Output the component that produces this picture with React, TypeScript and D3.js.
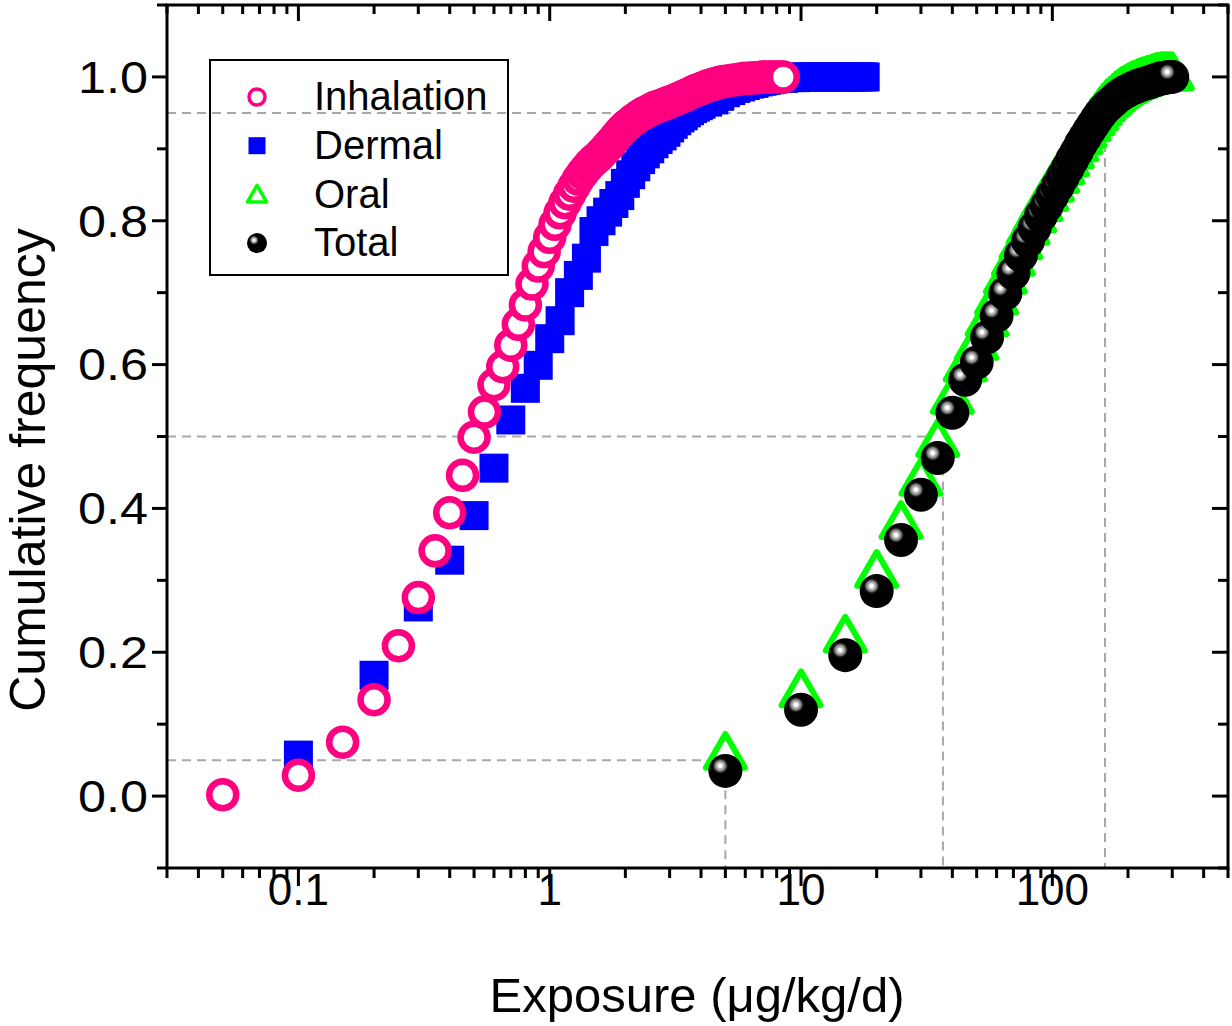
import React from 'react';
import * as d3 from 'd3';

// ---------------- data ----------------
const inhalationX = [0.05, 0.1, 0.15, 0.2, 0.25, 0.3, 0.35, 0.4, 0.45, 0.5, 0.55, 0.6, 0.65, 0.7, 0.75, 0.8, 0.85, 0.9, 0.95, 1.0,
  1.05, 1.1, 1.15, 1.2, 1.25, 1.3, 1.35, 1.4, 1.45, 1.5, 1.55, 1.6, 1.65, 1.7, 1.75, 1.8, 1.85, 1.9, 1.95, 2.0,
  2.05, 2.1, 2.15, 2.2, 2.25, 2.3, 2.35, 2.4, 2.45, 2.5, 2.55, 2.6, 2.65, 2.7, 2.75, 2.8, 2.85, 2.9, 2.95, 3.0,
  3.1, 3.2, 3.3, 3.4, 3.5, 3.6, 3.7, 3.8, 3.9, 4.0, 4.1, 4.2, 4.3, 4.4, 4.5, 4.6, 4.7, 4.8, 4.9, 5.0,
  5.25, 5.5, 5.75, 6.0, 6.25, 6.5, 6.75, 7.0, 7.25, 7.5, 7.75, 8.0, 8.25, 8.5];
const inhalationY = [0.002, 0.029, 0.075, 0.134, 0.209, 0.276, 0.341, 0.394, 0.446, 0.499, 0.534, 0.572, 0.597, 0.627, 0.656, 0.683, 0.712, 0.737, 0.757, 0.777,
  0.795, 0.811, 0.825, 0.837, 0.848, 0.858, 0.866, 0.873, 0.879, 0.884, 0.888, 0.893, 0.898, 0.903, 0.908, 0.913, 0.918, 0.923, 0.927, 0.931,
  0.934, 0.937, 0.940, 0.942, 0.945, 0.947, 0.949, 0.951, 0.952, 0.954, 0.955, 0.957, 0.958, 0.959, 0.960, 0.961, 0.962, 0.963, 0.964, 0.965,
  0.967, 0.969, 0.971, 0.973, 0.975, 0.977, 0.979, 0.981, 0.982, 0.984, 0.985, 0.987, 0.988, 0.989, 0.990, 0.991, 0.992, 0.993, 0.993, 0.994,
  0.995, 0.996, 0.997, 0.998, 0.998, 0.999, 0.999, 1.0, 1.0, 1.0, 1.0, 1.0, 1.0, 1.0];

const dermalX = [0.1, 0.2, 0.3, 0.4, 0.5, 0.6, 0.7, 0.8, 0.9, 1.0, 1.1, 1.2, 1.3, 1.4, 1.5, 1.6, 1.7, 1.8, 1.9, 2.0,
  2.1, 2.2, 2.3, 2.4, 2.5, 2.6, 2.7, 2.8, 2.9, 3.0, 3.1, 3.2, 3.3, 3.4, 3.5, 3.6, 3.7, 3.8, 3.9, 4.0,
  4.25, 4.5, 4.75, 5.0, 5.25, 5.5, 5.75, 6.0, 6.25, 6.5, 6.75, 7.0, 7.25, 7.5, 7.75, 8.0, 8.5, 9.0, 9.5, 10,
  10.5, 11, 11.5, 12, 12.5, 13, 13.5, 14, 14.5, 15, 15.5, 16, 16.5, 17, 17.5, 18];
const dermalY = [0.057, 0.168, 0.263, 0.328, 0.39, 0.456, 0.523, 0.567, 0.599, 0.636, 0.661, 0.70, 0.724, 0.748, 0.785, 0.80, 0.812, 0.824, 0.835, 0.852,
  0.864, 0.875, 0.885, 0.893, 0.900, 0.907, 0.913, 0.918, 0.923, 0.929, 0.934, 0.939, 0.943, 0.946, 0.950, 0.953, 0.956, 0.958, 0.960, 0.962,
  0.965, 0.968, 0.973, 0.978, 0.981, 0.984, 0.986, 0.988, 0.990, 0.991, 0.993, 0.994, 0.995, 0.996, 0.997, 0.998, 0.998, 0.999, 0.999, 1.0,
  1.0, 1.0, 1.0, 1.0, 1.0, 1.0, 1.0, 1.0, 1.0, 1.0, 1.0, 1.0, 1.0, 1.0, 1.0, 1.0];

const totalX = [5, 10, 15, 20, 25, 30, 35, 40, 45, 50, 55, 60, 65, 70, 75, 80, 85, 90, 95, 100,
  105, 110, 115, 120, 125, 130, 135, 140, 145, 150, 155, 160, 165, 170, 175, 180, 185, 190, 195, 200,
  205, 210, 215, 220, 225, 230, 235, 240, 245, 250, 255, 260, 265, 270, 275, 280, 285, 290, 295, 300];
const totalY = [0.035, 0.12, 0.196, 0.285, 0.356, 0.419, 0.470, 0.533, 0.579, 0.603, 0.638, 0.668, 0.699, 0.727, 0.752, 0.772, 0.790, 0.807, 0.821, 0.835,
  0.848, 0.861, 0.873, 0.885, 0.896, 0.907, 0.916, 0.925, 0.933, 0.941, 0.948, 0.954, 0.959, 0.963, 0.967, 0.971, 0.974, 0.977, 0.979, 0.981,
  0.983, 0.985, 0.986, 0.988, 0.989, 0.990, 0.991, 0.992, 0.993, 0.994, 0.995, 0.996, 0.997, 0.998, 0.998, 0.999, 0.999, 1.0, 1.0, 1.0];

const oralX = totalX;
const oralY = [0.055, 0.142, 0.218, 0.308, 0.376, 0.436, 0.49, 0.55, 0.595, 0.625, 0.658, 0.688, 0.717, 0.742, 0.765, 0.785, 0.802, 0.818, 0.832, 0.845,
  0.857, 0.869, 0.880, 0.891, 0.901, 0.911, 0.920, 0.929, 0.937, 0.944, 0.951, 0.957, 0.962, 0.966, 0.970, 0.974, 0.977, 0.980, 0.982, 0.984,
  0.986, 0.988, 0.989, 0.991, 0.992, 0.993, 0.994, 0.995, 0.996, 0.997, 0.998, 0.999, 0.999, 1.0, 1.0, 1.0, 1.0, 1.0, 1.0, 1.0];

// reference percentile lines: [y level, x value]
const refLevels = [0.05, 0.5, 0.95];
const refValues = [5, 36.7, 162];

const xTickValues = [0.1, 1, 10, 100];
const xTickLabels = ['0.1', '1', '10', '100'];
const yTickValues = [0, 0.2, 0.4, 0.6, 0.8, 1.0];
const yTickLabels = ['0.0', '0.2', '0.4', '0.6', '0.8', '1.0'];
const yMinorValues = [-0.1, 0.1, 0.3, 0.5, 0.7, 0.9, 1.1];

const legendNames = ['Inhalation', 'Dermal', 'Oral', 'Total'];

// ---------------- layout ----------------
const W = 1232, H = 1026;
const L = 167, R = 1228, T = 5, B = 868;
const PINK = '#ff0080', BLUE = '#0000ff', GREEN = '#00ff00';
const FONT = 'Liberation Sans, Arial, Helvetica, sans-serif';

const x = d3.scaleLog().domain([0.03, 500]).range([L, R]);
const y = d3.scaleLinear().domain([-0.1, 1.1]).range([B, T]);

function triPath(s: number) {
  const h = (s * Math.sqrt(3)) / 2;
  return `M0,${-2 * h / 3}L${s / 2},${h / 3}L${-s / 2},${h / 3}Z`;
}

export default function App() {
  const xMinor = x.ticks().filter((v) => !xTickValues.some((t) => Math.abs(t - v) / t < 1e-6));
  const sq = 29;
  return (
    <svg width={W} height={H} style={{ position: 'absolute', left: 0, top: 0, background: '#fff' }} fontFamily={FONT}>
      <defs>
        <radialGradient id="sphere" cx="0.35" cy="0.35" r="0.5" fx="0.35" fy="0.35">
          <stop offset="0" stopColor="#ffffff" />
          <stop offset="0.1" stopColor="#ffffff" />
          <stop offset="0.18" stopColor="#bbbbbb" />
          <stop offset="0.3" stopColor="#858585" />
          <stop offset="0.4" stopColor="#202020" />
          <stop offset="0.48" stopColor="#000000" />
          <stop offset="1" stopColor="#000000" />
        </radialGradient>
        <clipPath id="plotClip">
          <rect x={L} y={T} width={R - L} height={B - T} />
        </clipPath>
      </defs>
      <rect x={0} y={0} width={W} height={H} fill="#fff" />

      {/* reference dashed lines */}
      <g stroke="#a8a8a8" strokeWidth={2} strokeDasharray="9,6" fill="none">
        {refLevels.map((lv, i) => (
          <g key={i}>
            <line x1={L} x2={x(refValues[i])} y1={y(lv)} y2={y(lv)} />
            <line x1={x(refValues[i])} x2={x(refValues[i])} y1={y(lv)} y2={B} />
          </g>
        ))}
      </g>

      <g clipPath="url(#plotClip)">
        {/* Dermal */}
        <g fill={BLUE}>
          {dermalX.map((v, i) => (
            <rect key={i} x={x(v) - sq / 2} y={y(dermalY[i]) - sq / 2} width={sq} height={sq} />
          ))}
        </g>
        {/* Inhalation */}
        <g fill="#fff" stroke={PINK} strokeWidth={6.5}>
          {inhalationX.map((v, i) => (
            <circle key={i} cx={x(v)} cy={y(inhalationY[i])} r={13.5} />
          ))}
        </g>
        {/* Oral */}
        <g fill="#fff" stroke={GREEN} strokeWidth={6} strokeLinejoin="round">
          {oralX.map((v, i) => (
            <path key={i} d={triPath(39)} transform={`translate(${x(v)},${y(oralY[i])})`} />
          ))}
        </g>
        {/* Total */}
        <g fill="url(#sphere)">
          {totalX.map((v, i) => (
            <circle key={i} cx={x(v)} cy={y(totalY[i])} r={17} />
          ))}
        </g>
      </g>

      {/* frame */}
      <rect x={L} y={T} width={R - L} height={B - T} fill="none" stroke="#000" strokeWidth={3} />

      {/* ticks */}
      <g stroke="#000" strokeWidth={3}>
        {xTickValues.map((v, i) => (
          <g key={'xm' + i}>
            <line x1={x(v)} x2={x(v)} y1={B} y2={B + 18} />
            <line x1={x(v)} x2={x(v)} y1={T} y2={T + 16} />
          </g>
        ))}
        {xMinor.map((v, i) => (
          <g key={'xn' + i}>
            <line x1={x(v)} x2={x(v)} y1={B} y2={B + 10} />
            <line x1={x(v)} x2={x(v)} y1={T} y2={T + 9} />
          </g>
        ))}
        {yTickValues.map((v, i) => (
          <g key={'ym' + i}>
            <line x1={L - 15} x2={L} y1={y(v)} y2={y(v)} />
            <line x1={R - 16} x2={R} y1={y(v)} y2={y(v)} />
          </g>
        ))}
        {yMinorValues.map((v, i) => (
          <g key={'yn' + i}>
            <line x1={L - 10} x2={L} y1={y(v)} y2={y(v)} />
            <line x1={R - 10} x2={R} y1={y(v)} y2={y(v)} />
          </g>
        ))}
      </g>

      {/* tick labels */}
      <g fill="#000">
        {xTickValues.map((v, i) => (
          <text key={i} x={x(v)} y={905} fontSize={44} textAnchor="middle">{xTickLabels[i]}</text>
        ))}
        {yTickValues.map((v, i) => (
          <text key={i} x={78} y={y(v)} dy="0.36em" fontSize={44} textLength={70} lengthAdjust="spacingAndGlyphs">{yTickLabels[i]}</text>
        ))}
      </g>

      {/* axis titles */}
      <text x={697} y={1012} fontSize={49} textAnchor="middle">Exposure (μg/kg/d)</text>
      <text transform={`translate(45,470) rotate(-90)`} fontSize={50} textAnchor="middle">Cumulative frequency</text>

      {/* legend */}
      <g>
        <rect x={210} y={60} width={298} height={215} fill="none" stroke="#000" strokeWidth={2} />
        {legendNames.map((n, i) => {
          const cy = 97 + i * 48.7;
          const cx = 257;
          let sym;
          if (i === 0) sym = <circle cx={cx} cy={cy} r={8} fill="#fff" stroke={PINK} strokeWidth={3.5} />;
          else if (i === 1) sym = <rect x={cx - 8.5} y={cy - 8.5} width={17} height={17} fill={BLUE} />;
          else if (i === 2) sym = <path d={triPath(19)} transform={`translate(${cx},${cy + 2})`} fill="#fff" stroke={GREEN} strokeWidth={3.5} strokeLinejoin="round" />;
          else sym = <circle cx={cx} cy={cy} r={10} fill="url(#sphere)" />;
          return (
            <g key={n}>
              {sym}
              <text x={314} y={cy} dy="0.33em" fontSize={40}>{n}</text>
            </g>
          );
        })}
      </g>
    </svg>
  );
}
